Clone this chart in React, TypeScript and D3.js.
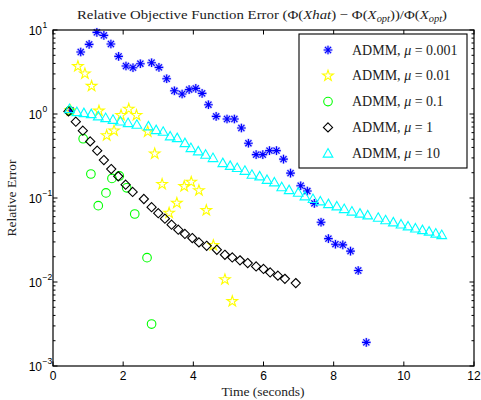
import React from 'react';
import * as d3 from 'd3';

const W = 481;
const H = 400;

// ADMM, mu = 0.001 (blue asterisks)
const blueT = [0.50, 0.79, 1.03, 1.25, 1.45, 1.65, 1.87, 2.08, 2.28, 2.49, 2.81, 3.02, 3.24, 3.46, 3.68, 3.88, 4.07, 4.25, 4.43, 4.65, 4.96, 5.17, 5.37, 5.57, 5.79, 5.98, 6.17, 6.37, 6.57, 6.77, 7.06, 7.25, 7.45, 7.64, 7.85, 8.05, 8.26, 8.48, 8.70, 8.93];
const blueV = [1.1, 5.47, 6.74, 9.36, 8.62, 6.81, 4.85, 3.73, 3.56, 3.97, 4.08, 3.59, 2.63, 1.89, 1.73, 1.95, 2.02, 1.76, 1.29, 0.936, 0.872, 0.872, 0.681, 0.449, 0.328, 0.328, 0.366, 0.366, 0.29, 0.198, 0.14, 0.121, 0.0862, 0.0515, 0.0328, 0.0282, 0.0277, 0.0233, 0.0137, 0.00191];

// ADMM, mu = 0.01 (yellow pentagrams)
const yellowT = [0.50, 0.71, 0.91, 1.10, 1.31, 1.53, 1.74, 1.94, 2.16, 2.38, 2.70, 2.90, 3.11, 3.31, 3.53, 3.74, 3.94, 4.16, 4.37, 4.57, 4.90, 5.11];
const yellowV = [1.1, 3.69, 3.02, 2.15, 1.09, 0.555, 0.633, 0.968, 1.147, 0.968, 0.616, 0.337, 0.146, 0.0663, 0.0871, 0.1375, 0.155, 0.123, 0.0712, 0.0273, 0.0107, 0.00588];

// ADMM, mu = 0.1 (green circles)
const greenT = [0.47, 0.86, 1.08, 1.29, 1.51, 1.68, 1.89, 2.10, 2.33, 2.68, 2.81];
const greenV = [1.09, 0.508, 0.193, 0.081, 0.115, 0.171, 0.183, 0.132, 0.0645, 0.0195, 0.00316];

// ADMM, mu = 1 (black diamonds)
const blackT = [0.44, 0.65, 0.85, 1.06, 1.26, 1.45, 1.66, 1.86, 2.07, 2.27, 2.59, 2.81, 3.00, 3.19, 3.38, 3.57, 3.76, 3.97, 4.16, 4.38, 4.67, 4.90, 5.11, 5.33, 5.55, 5.79, 6.00, 6.19, 6.41, 6.61, 6.92];
const blackV = [1.074, 0.81, 0.633, 0.472, 0.366, 0.283, 0.221, 0.181, 0.144, 0.118, 0.0973, 0.0777, 0.0659, 0.0567, 0.0481, 0.0419, 0.0373, 0.0334, 0.0296, 0.027, 0.0242, 0.0211, 0.0196, 0.0181, 0.0168, 0.0153, 0.0143, 0.013, 0.0119, 0.0109, 0.0097];

// ADMM, mu = 10 (cyan triangles)
const cyanT = [0.47, 0.68, 0.88, 1.09, 1.29, 1.50, 1.71, 1.92, 2.14, 2.39, 2.72, 2.94, 3.14, 3.34, 3.54, 3.76, 3.93, 4.14, 4.35, 4.56, 4.84, 5.05, 5.25, 5.47, 5.67, 5.89, 6.10, 6.31, 6.52, 6.73, 6.99, 7.18, 7.41, 7.62, 7.85, 8.09, 8.30, 8.52, 8.75, 8.97, 9.27, 9.48, 9.70, 9.92, 10.12, 10.33, 10.53, 10.72, 10.91, 11.08];
const cyanV = [1.157, 1.065, 1.036, 1.008, 0.947, 0.904, 0.862, 0.825, 0.788, 0.752, 0.72, 0.65, 0.621, 0.547, 0.522, 0.455, 0.397, 0.363, 0.331, 0.302, 0.263, 0.244, 0.23, 0.213, 0.191, 0.183, 0.166, 0.155, 0.136, 0.1255, 0.117, 0.1056, 0.0982, 0.0921, 0.0855, 0.0803, 0.0746, 0.0697, 0.0659, 0.0628, 0.0588, 0.0549, 0.0518, 0.049, 0.0464, 0.0439, 0.0419, 0.0402, 0.0381, 0.0366];

const xTicks = [0, 2, 4, 6, 8, 10, 12];
const yExps = [1, 0, -1, -2, -3];
const legendLabels = ['0.001', '0.01', '0.1', '1', '10'];

const SERIF = '"Liberation Serif", "Times New Roman", serif';
const SANS = '"Liberation Sans", Arial, Helvetica, sans-serif';

const plot = { left: 53, right: 474, top: 30, bottom: 366 };

function asteriskPath(r: number) {
  const d = r * 0.7071;
  return `M${-r},0L${r},0M0,${-r}L0,${r}M${-d},${-d}L${d},${d}M${-d},${d}L${d},${-d}`;
}
function starPath(R: number) {
  const r = R * 0.382;
  const pts: string[] = [];
  for (let i = 0; i < 10; i++) {
    const a = -Math.PI / 2 + (i * Math.PI) / 5;
    const rr = i % 2 === 0 ? R : r;
    pts.push(`${(rr * Math.cos(a)).toFixed(2)},${(rr * Math.sin(a)).toFixed(2)}`);
  }
  return 'M' + pts.join('L') + 'Z';
}
function diamondPath(r: number) {
  return `M0,${-r}L${r},0L0,${r}L${-r},0Z`;
}
function trianglePath(r: number) {
  return `M0,${-r}L${r * 1.05},${r * 0.85}L${-r * 1.05},${r * 0.85}Z`;
}

type Kind = 'ast' | 'star' | 'circle' | 'diamond' | 'tri';

function Marker({ kind, x, y }: { kind: Kind; x: number; y: number }) {
  const t = `translate(${x},${y})`;
  if (kind === 'ast')
    return (
      <g transform={t}>
        <path d={asteriskPath(4.6)} stroke="#9a9aff" strokeWidth={2.6} fill="none" opacity={0.55} />
        <path d={asteriskPath(4.3)} stroke="#0000ff" strokeWidth={1.1} fill="none" />
      </g>
    );
  if (kind === 'star') return <path transform={t} d={starPath(5.6)} stroke="#ffff00" strokeWidth={1.1} fill="none" />;
  if (kind === 'circle') return <circle cx={x} cy={y} r={4.3} stroke="#00ff00" strokeWidth={1.1} fill="none" />;
  if (kind === 'diamond') return <path transform={t} d={diamondPath(4.6)} stroke="#000000" strokeWidth={1.1} fill="none" />;
  return <path transform={t} d={trianglePath(4.6)} stroke="#00ffff" strokeWidth={1.1} fill="none" />;
}

export default function App() {
  const x = d3.scaleLinear().domain([0, 12]).range([plot.left, plot.right]);
  const y = d3.scaleLog().domain([1e-3, 10]).range([plot.bottom, plot.top]);

  const series: { kind: Kind; t: number[]; v: number[] }[] = [
    { kind: 'ast', t: blueT, v: blueV },
    { kind: 'star', t: yellowT, v: yellowV },
    { kind: 'circle', t: greenT, v: greenV },
    { kind: 'diamond', t: blackT, v: blackV },
    { kind: 'tri', t: cyanT, v: cyanV },
  ];

  const minor: number[] = [];
  for (let k = -3; k < 1; k++) for (let d = 2; d <= 9; d++) minor.push(d * Math.pow(10, k));

  const lg = { x: 299, y: 34, w: 168, h: 134 };
  const lgRow = (i: number) => lg.y + 16 + i * 25.8;

  return (
    <svg width={W} height={H} style={{ position: 'absolute', left: 0, top: 0, background: '#fff' }}>
      <rect x={0} y={0} width={W} height={H} fill="#fff" />
      {/* title */}
      <text x={262} y={19} textAnchor="middle" fontFamily={SERIF} fontSize={13.5} fill="#222" textLength={370} lengthAdjust="spacingAndGlyphs">
        <tspan>Relative Objective Function Error (Φ(</tspan>
        <tspan fontStyle="italic">Xhat</tspan>
        <tspan>) − Φ(</tspan>
        <tspan fontStyle="italic">X</tspan>
        <tspan fontStyle="italic" fontSize={9.5} dy={2.5}>opt</tspan>
        <tspan dy={-2.5}>))/Φ(</tspan>
        <tspan fontStyle="italic">X</tspan>
        <tspan fontStyle="italic" fontSize={9.5} dy={2.5}>opt</tspan>
        <tspan dy={-2.5}>)</tspan>
      </text>

      {/* data */}
      <g>
        {series.map((s, si) =>
          s.t.map((tt, i) => <Marker key={si + '-' + i} kind={s.kind} x={x(tt)} y={y(s.v[i])} />)
        )}
      </g>

      {/* axes box */}
      <rect x={plot.left} y={plot.top} width={plot.right - plot.left} height={plot.bottom - plot.top} fill="none" stroke="#000" strokeWidth={1.2} />
      {xTicks.map((t) => (
        <g key={'xt' + t}>
          <line x1={x(t)} x2={x(t)} y1={plot.bottom} y2={plot.bottom - 4.5} stroke="#000" />
          <line x1={x(t)} x2={x(t)} y1={plot.top} y2={plot.top + 4.5} stroke="#000" />
          <text x={x(t)} y={plot.bottom + 14} textAnchor="middle" fontFamily={SANS} fontSize={12} fill="#000">
            {t}
          </text>
        </g>
      ))}
      {yExps.map((e) => {
        const yy = y(Math.pow(10, e));
        return (
          <g key={'ye' + e}>
            <line x1={plot.left} x2={plot.left + 4.5} y1={yy} y2={yy} stroke="#000" />
            <line x1={plot.right} x2={plot.right - 4.5} y1={yy} y2={yy} stroke="#000" />
            <text x={42} y={yy + 5} textAnchor="end" fontFamily={SANS} fontSize={12} fill="#000">
              10
            </text>
            <text x={42.5} y={yy - 2} textAnchor="start" fontFamily={SANS} fontSize={8.5} fill="#000">
              {e < 0 ? '−' + Math.abs(e) : String(e)}
            </text>
          </g>
        );
      })}
      {minor.map((v, i) => {
        const yy = y(v);
        return (
          <g key={'mn' + i}>
            <line x1={plot.left} x2={plot.left + 2.5} y1={yy} y2={yy} stroke="#000" />
            <line x1={plot.right} x2={plot.right - 2.5} y1={yy} y2={yy} stroke="#000" />
          </g>
        );
      })}

      {/* axis labels */}
      <text x={263} y={396} textAnchor="middle" fontFamily={SERIF} fontSize={13.5} fill="#222">
        Time (seconds)
      </text>
      <text transform={`translate(16,${(plot.top + plot.bottom) / 2}) rotate(-90)`} textAnchor="middle" fontFamily={SERIF} fontSize={13.5} fill="#222">
        Relative Error
      </text>

      {/* legend */}
      <rect x={lg.x} y={lg.y} width={lg.w} height={lg.h} fill="#fff" stroke="#000" strokeWidth={1.1} />
      {series.map((s, i) => (
        <g key={'lg' + i}>
          <Marker kind={s.kind} x={328} y={lgRow(i)} />
          <text x={352} y={lgRow(i) + 4.5} fontFamily={SERIF} fontSize={14} fill="#222">
            <tspan>ADMM, </tspan>
            <tspan fontStyle="italic">μ</tspan>
            <tspan> = {legendLabels[i]}</tspan>
          </text>
        </g>
      ))}
    </svg>
  );
}
